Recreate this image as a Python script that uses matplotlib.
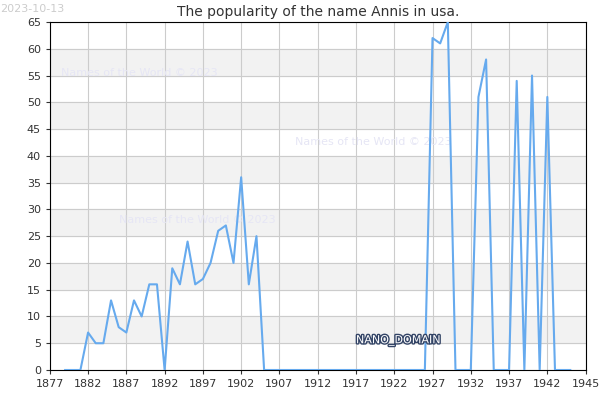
import matplotlib.pyplot as plt
import matplotlib.patheffects as pe

years = list(range(1879, 1946))
counts = [0, 0, 0, 7, 5, 5, 13, 8, 7, 13, 10, 16, 16, 0, 19, 16, 24, 16, 17, 20,
          26, 27, 20, 36, 16, 25, 0] + [0] * 21 + \
         [62, 61, 65, 0, 0, 0, 51, 58, 0, 0, 0, 54, 0, 55, 0, 51, 0, 0, 0]
counts = counts[:len(years)]
tick_years = list(range(1877, 1943, 5))
tick_labels = [str(y) for y in tick_years] + ["1945"]

fig = plt.figure(figsize=(6, 4), dpi=100)
ax = fig.add_axes([0.083, 0.075, 0.893, 0.87])

for lo in range(5, 65, 10):
    ax.axhspan(lo, lo + 5, color="#f2f2f2", zorder=0)
ax.set_yticks(range(0, 66, 5))
ax.grid(True, color="#cccccc", linewidth=0.8, zorder=1)
ax.set_axisbelow(True)

ax.plot(years, counts, color="#66aaee", linewidth=1.5, zorder=3)

ax.set_xlim(1877, 1947)
ax.set_ylim(0, 65)
ax.set_xticks(tick_years + [1947])
ax.set_xticklabels(tick_labels)
ax.tick_params(labelsize=8, colors="#333333", length=3)
ax.set_title("The popularity of the name Annis in usa.", fontsize=10, color="#333333", pad=4)

wm = dict(color="#e6e6f5", fontsize=8, zorder=2)
ax.text(1878.5, 55, "Names of the World \u00a9 2023", **wm)
ax.text(1909, 42, "Names of the World \u00a9 2023", **wm)
ax.text(1886, 27.5, "Names of the World \u00a9 2023", **wm)
ax.text(1917, 5, "NANO_DOMAIN", fontsize=8, color="#ffffff", zorder=4,
        path_effects=[pe.withStroke(linewidth=2, foreground="#334466")])
fig.text(0.0, 0.99, "2023-10-13", fontsize=8, color="#cccccc", va="top")

fig.savefig("out.png")
